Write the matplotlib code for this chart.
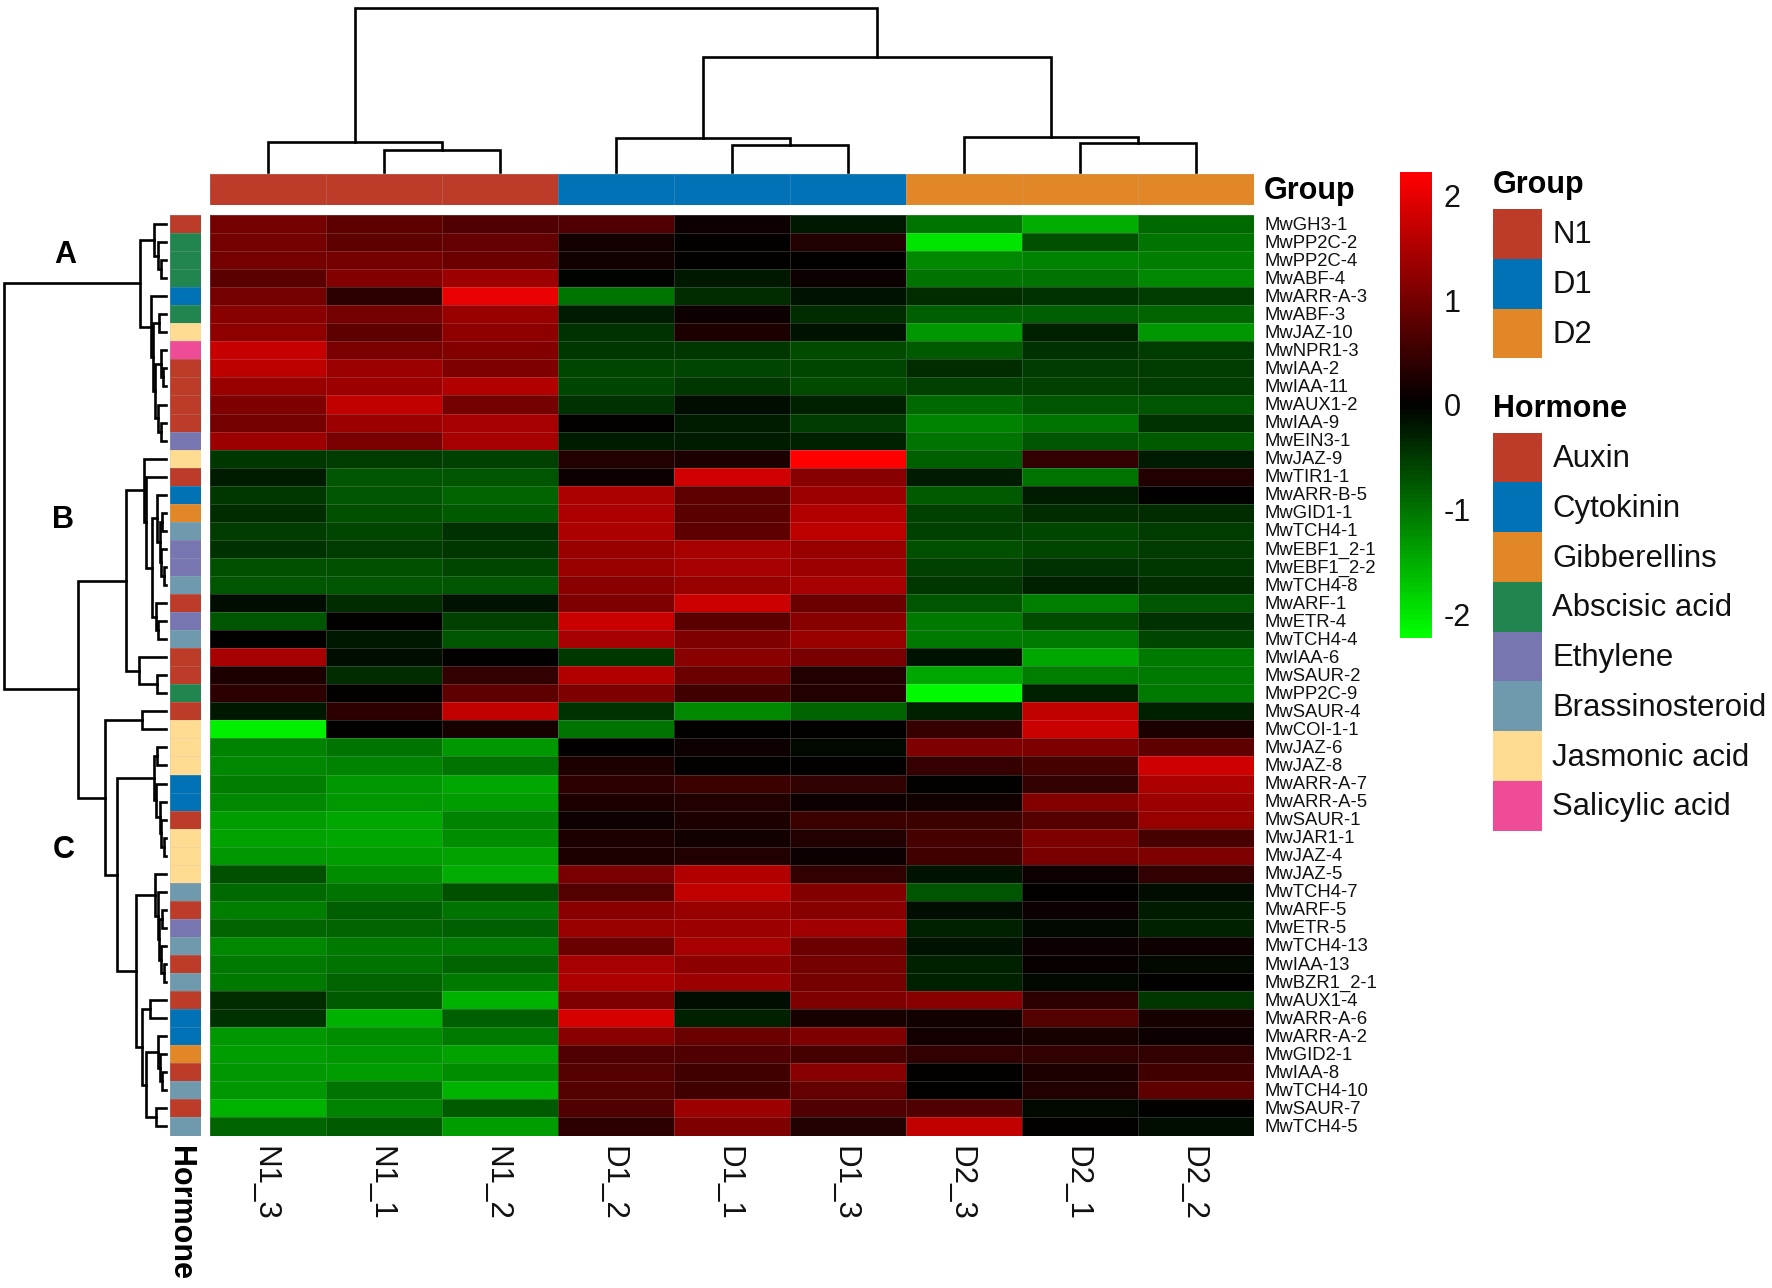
import matplotlib
matplotlib.use('Agg')
import matplotlib.pyplot as plt
import numpy as np
from matplotlib.colors import LinearSegmentedColormap, ListedColormap
from matplotlib.patches import Rectangle

plt.rcParams['font.family'] = ['Liberation Sans', 'DejaVu Sans']

W, H = 1772, 1288

samples = ['N1_3', 'N1_1', 'N1_2', 'D1_2', 'D1_1', 'D1_3', 'D2_3', 'D2_1', 'D2_2']
sample_group = ['N1', 'N1', 'N1', 'D1', 'D1', 'D1', 'D2', 'D2', 'D2']

genes = ['MwGH3-1', 'MwPP2C-2', 'MwPP2C-4', 'MwABF-4', 'MwARR-A-3', 'MwABF-3', 'MwJAZ-10', 'MwNPR1-3',
         'MwIAA-2', 'MwIAA-11', 'MwAUX1-2', 'MwIAA-9', 'MwEIN3-1', 'MwJAZ-9', 'MwTIR1-1', 'MwARR-B-5',
         'MwGID1-1', 'MwTCH4-1', 'MwEBF1_2-1', 'MwEBF1_2-2', 'MwTCH4-8', 'MwARF-1', 'MwETR-4', 'MwTCH4-4',
         'MwIAA-6', 'MwSAUR-2', 'MwPP2C-9', 'MwSAUR-4', 'MwCOI-1-1', 'MwJAZ-6', 'MwJAZ-8', 'MwARR-A-7',
         'MwARR-A-5', 'MwSAUR-1', 'MwJAR1-1', 'MwJAZ-4', 'MwJAZ-5', 'MwTCH4-7', 'MwARF-5', 'MwETR-5',
         'MwTCH4-13', 'MwIAA-13', 'MwBZR1_2-1', 'MwAUX1-4', 'MwARR-A-6', 'MwARR-A-2', 'MwGID2-1', 'MwIAA-8',
         'MwTCH4-10', 'MwSAUR-7', 'MwTCH4-5']

gene_hormone = ['Auxin', 'Abscisic acid', 'Abscisic acid', 'Abscisic acid', 'Cytokinin', 'Abscisic acid',
                'Jasmonic acid', 'Salicylic acid', 'Auxin', 'Auxin', 'Auxin', 'Auxin', 'Ethylene',
                'Jasmonic acid', 'Auxin', 'Cytokinin', 'Gibberellins', 'Brassinosteroid', 'Ethylene', 'Ethylene',
                'Brassinosteroid', 'Auxin', 'Ethylene', 'Brassinosteroid', 'Auxin', 'Auxin', 'Abscisic acid',
                'Auxin', 'Jasmonic acid', 'Jasmonic acid', 'Jasmonic acid', 'Cytokinin', 'Cytokinin', 'Auxin',
                'Jasmonic acid', 'Jasmonic acid', 'Jasmonic acid', 'Brassinosteroid', 'Auxin', 'Ethylene',
                'Brassinosteroid', 'Auxin', 'Brassinosteroid', 'Auxin', 'Cytokinin', 'Cytokinin', 'Gibberellins',
                'Auxin', 'Brassinosteroid', 'Auxin', 'Brassinosteroid']

# one row per gene, columns in the order of samples
values = [
    [.95, .80, .65, .65, .12, -.20, -.95, -1.45, -.90],
    [.95, .80, .85, .15, 0, .30, -1.90, -.65, -.95],
    [.98, .95, .90, .15, 0, 0, -1.15, -1.10, -1.05],
    [.75, 1.10, 1.30, -.02, -.18, .12, -.95, -.95, -1.15],
    [.95, .35, 1.95, -.95, -.35, -.15, -.35, -.40, -.50],
    [1.15, .95, 1.25, -.25, .10, -.35, -.80, -.80, -.85],
    [1.20, .80, 1.20, -.40, .25, -.15, -1.25, -.28, -1.25],
    [1.65, 1.00, 1.10, -.45, -.45, -.62, -.75, -.40, -.50],
    [1.55, 1.30, 1.05, -.60, -.60, -.60, -.38, -.50, -.50],
    [1.25, 1.30, 1.50, -.60, -.45, -.62, -.55, -.55, -.50],
    [1.05, 1.60, .95, -.42, -.12, -.28, -.90, -.70, -.70],
    [.95, 1.30, 1.38, 0, -.25, -.50, -1.10, -.95, -.40],
    [1.30, 1.00, 1.40, -.25, -.25, -.28, -.95, -.70, -.75],
    [-.45, -.50, -.55, .30, .25, 2.23, -.80, .42, -.25],
    [-.22, -.70, -.72, .10, 1.75, 1.15, -.25, -.98, .30],
    [-.45, -.72, -.85, 1.45, .80, 1.30, -.75, -.25, 0],
    [-.35, -.68, -.75, 1.45, .75, 1.48, -.52, -.38, -.35],
    [-.50, -.60, -.40, 1.45, .80, 1.55, -.55, -.60, -.50],
    [-.42, -.50, -.45, 1.25, 1.40, 1.25, -.65, -.60, -.50],
    [-.65, -.65, -.60, 1.25, 1.40, 1.30, -.55, -.42, -.45],
    [-.70, -.70, -.72, 1.15, 1.25, 1.40, -.45, -.28, -.35],
    [-.12, -.35, -.15, 1.05, 1.70, .90, -.70, -1.05, -.70],
    [-.70, 0, -.55, 1.70, .75, 1.15, -1.00, -.62, -.40],
    [.03, -.18, -.72, 1.40, 1.05, 1.25, -1.00, -1.00, -.60],
    [1.40, -.12, 0, -.45, 1.15, 1.00, -.14, -1.40, -1.00],
    [.25, -.35, .40, 1.50, .90, .30, -1.40, -1.05, -1.00],
    [.35, 0, .80, 1.05, .55, .30, -2.10, -.30, -1.00],
    [-.20, .35, 1.60, -.40, -1.15, -.85, -.30, 1.60, -.30],
    [-2.00, .02, .20, -.95, .03, .02, .45, 1.70, .25],
    [-1.10, -.95, -1.25, 0, .10, -.05, 1.05, 1.05, .80],
    [-1.15, -1.10, -.95, .25, 0, 0, .45, .60, 1.75],
    [-1.05, -1.25, -1.40, .35, .50, .40, 0, .40, 1.45],
    [-1.15, -1.25, -1.30, .22, .28, .12, .15, 1.10, 1.30],
    [-1.30, -1.40, -1.10, .12, .25, .50, .50, .70, 1.25],
    [-1.35, -1.40, -1.20, .22, .15, .28, .60, 1.05, .60],
    [-1.25, -1.30, -1.35, .22, .30, .10, .55, 1.00, 1.05],
    [-.65, -1.20, -1.45, 1.00, 1.50, .40, -.15, .12, .40],
    [-.90, -.95, -.65, .70, 1.60, 1.10, -.70, 0, -.12],
    [-1.05, -.80, -.95, 1.15, 1.25, 1.15, -.12, .12, -.25],
    [-.85, -.85, -.80, 1.25, 1.30, 1.35, -.30, -.05, -.28],
    [-1.15, -1.00, -1.00, .90, 1.40, .90, -.15, .12, .12],
    [-1.00, -.95, -.85, 1.40, 1.20, .95, -.30, .08, -.07],
    [-1.00, -.85, -1.00, 1.45, 1.30, .95, -.28, -.08, 0],
    [-.35, -.75, -1.50, 1.05, -.12, 1.05, 1.15, .35, -.45],
    [-.40, -1.50, -.80, 1.80, -.30, .20, .15, .70, .20],
    [-1.25, -1.20, -1.00, 1.15, .90, 1.05, .15, .18, .12],
    [-1.30, -1.25, -1.35, .65, .65, .60, .40, .40, .40],
    [-1.25, -1.30, -1.20, .70, .55, 1.15, 0, .25, .55],
    [-1.25, -.95, -1.50, .70, .55, .85, 0, .28, .80],
    [-1.50, -1.10, -.75, .65, 1.30, .65, .65, -.05, 0],
    [-.85, -.75, -1.30, .35, 1.05, .30, 1.60, 0, -.12],
]

group_names = ['N1', 'D1', 'D2']
group_colors = ['#BC3C29', '#0072B5', '#E18727']
hormone_names = ['Auxin', 'Cytokinin', 'Gibberellins', 'Abscisic acid', 'Ethylene',
                 'Brassinosteroid', 'Jasmonic acid', 'Salicylic acid']
hormone_colors = ['#BC3C29', '#0072B5', '#E18727', '#20854E', '#7876B1', '#6F99AD', '#FFDC91', '#EE4C97']

# trees are (height, left, right), an int is a leaf index
col_tree = (163.4,
            (30, 0, (22, 1, 2)),
            (115,
             (33.6, 3, (26.7, 4, 5)),
             (34.7, 6, (29, 7, 8))))

row_tree = (162.5,
            (26,
             (12, 0, (8, 1, (5.5, 2, 3))),
             (15, 4,
              (13.5,
               (7, 5, 6),
               (11,
                (5.5, 7, (3, 8, 9)),
                (8, 10, (5.5, 11, 12)))))),
            (88,
             (40,
              (22.3, 13,
               (20.3, 14,
                (14.7,
                 (9.3, 15,
                  (6,
                   (4.3, 16, 17),
                   (5.3, 18, (2.7, 19, 20)))),
                 (10.7, 21, (8.7, 22, 23))))),
              (27.7, 24, (9.7, 25, 26))),
             (61,
              (24, 27, 28),
              (49,
               (12,
                (9.3, 29, 30),
                (10.7, 31,
                 (6, 32, (5, 33, (2.7, 34, 35))))),
               (30.3,
                (11.3, 36,
                 (8.3, 37,
                  (7.3,
                   (4.3, 38, 39),
                   (5.3, 40, (2.7, 41, 42))))),
                (24.7,
                 (16, 43, 44),
                 (20,
                  (8, 45, (6.7, 46, (4.7, 47, 48))),
                  (10.7, 49, 50))))))))

cmap = LinearSegmentedColormap.from_list('gbr', ['#00FF00', '#000000', '#FF0000'], N=100)
vmax = 2.23
cell_vmax = 2.15  # cells read a bit dark, brighten them a little


def add_px_axes(x0, y0, x1, y1):
    ax = fig.add_axes([x0 / W, 1 - y1 / H, (x1 - x0) / W, (y1 - y0) / H])
    ax.axis('off')
    return ax


def px_text(x, y, s, **kw):
    fig.text(x / W, 1 - y / H, s, **kw)


def draw_tree(ax, node, horizontal):
    # returns (position, height) of the node
    if isinstance(node, int):
        return node + 0.5, 0
    h, left, right = node
    p1, h1 = draw_tree(ax, left, horizontal)
    p2, h2 = draw_tree(ax, right, horizontal)
    if horizontal:
        ax.plot([p1, p1, p2, p2], [h1, h, h, h2], color='black', lw=1.9, solid_joinstyle='miter', clip_on=False)
    else:
        ax.plot([h1, h, h, h2], [p1, p1, p2, p2], color='black', lw=1.9, solid_joinstyle='miter', clip_on=False)
    return (p1 + p2) / 2, h


fig = plt.figure(figsize=(W / 100, H / 100), dpi=100, facecolor='w')

hm_x0, hm_x1, hm_y0, hm_y1 = 210.3, 1254, 215, 1135.5
edge = (0.75, 0.75, 0.75, 0.22)

# main heatmap
ax = add_px_axes(hm_x0, hm_y0, hm_x1, hm_y1)
ax.pcolormesh(np.array(values), cmap=cmap, vmin=-cell_vmax, vmax=cell_vmax, edgecolors=edge, linewidth=0.6)
ax.set_xlim(0, len(samples))
ax.set_ylim(len(genes), 0)

# column tree
ax = add_px_axes(hm_x0, 8.3, hm_x1, 171.7)
draw_tree(ax, col_tree, True)
ax.set_xlim(0, len(samples))
ax.set_ylim(0, 163.4)

# row tree
ax = add_px_axes(3.5, hm_y0, 166.3, hm_y1)
draw_tree(ax, row_tree, False)
ax.set_xlim(162.8, 0)
ax.set_ylim(len(genes), 0)

# group annotation
ax = add_px_axes(hm_x0, 174.3, hm_x1, 205)
ax.pcolormesh(np.array([[group_names.index(g) for g in sample_group]]),
              cmap=ListedColormap(group_colors), vmin=-0.5, vmax=2.5, edgecolors=edge, linewidth=0.6)
ax.set_xlim(0, len(samples))

# hormone annotation
ax = add_px_axes(170, hm_y0, 200.7, hm_y1)
ax.pcolormesh(np.array([[hormone_names.index(h)] for h in gene_hormone]),
              cmap=ListedColormap(hormone_colors), vmin=-0.5, vmax=7.5, edgecolors=edge, linewidth=0.6)
ax.set_ylim(len(genes), 0)

# row and column labels
row_h = (hm_y1 - hm_y0) / len(genes)
for i, g in enumerate(genes):
    px_text(1264, hm_y0 + (i + 0.5) * row_h + 1, g, fontsize=13.3, va='center', ha='left', color='#111111')

col_w = (hm_x1 - hm_x0) / len(samples)
for i, s in enumerate(samples):
    px_text(hm_x0 + (i + 0.5) * col_w - 3.5, 1146.5, s, fontsize=22.6, rotation=270, va='top', ha='center', color='#111111')

px_text(1264, 191, 'Group', fontsize=22, fontweight='bold', va='center', ha='left')
px_text(165, 1146.5, 'Hormone', fontsize=22, fontweight='bold', rotation=270, va='top', ha='left')

for letter, lx, ly in [('A', 65.5, 255), ('B', 63.5, 520), ('C', 63.5, 850)]:
    px_text(lx, ly, letter, fontsize=22, fontweight='bold', va='center', ha='center')

# colour bar
cax = fig.add_axes([1400 / W, 1 - 638.3 / H, 31.7 / W, 466.6 / H])
sm = plt.cm.ScalarMappable(norm=plt.Normalize(-vmax, vmax), cmap=cmap)
cb = fig.colorbar(sm, cax=cax, ticks=[2, 1, 0, -1, -2])
cb.ax.set_yticklabels(['2', '1', '0', '-1', '-2'], fontsize=22, color='#111111')
cb.ax.tick_params(length=0, pad=8.8)
cb.outline.set_visible(False)

# legends
legend = add_px_axes(0, 0, W, H)
legend.set_xlim(0, W)
legend.set_ylim(H, 0)


def draw_legend(title, title_y, top, names, colors):
    legend.text(1493, title_y, title, fontsize=22, fontweight='bold', va='center', ha='left')
    step = 49.75
    for i, (name, colour) in enumerate(zip(names, colors)):
        legend.add_patch(Rectangle((1492.7, top + i * step), 49.6, step, facecolor=colour, edgecolor='none'))
        legend.text(1552.5, top + (i + 0.5) * step + 1.5, name, fontsize=22.4, va='center', ha='left', color='#111111')


draw_legend('Group', 185, 209, group_names, group_colors)
draw_legend('Hormone', 409, 432.7, hormone_names, hormone_colors)

fig.savefig('out.png', dpi=100)
